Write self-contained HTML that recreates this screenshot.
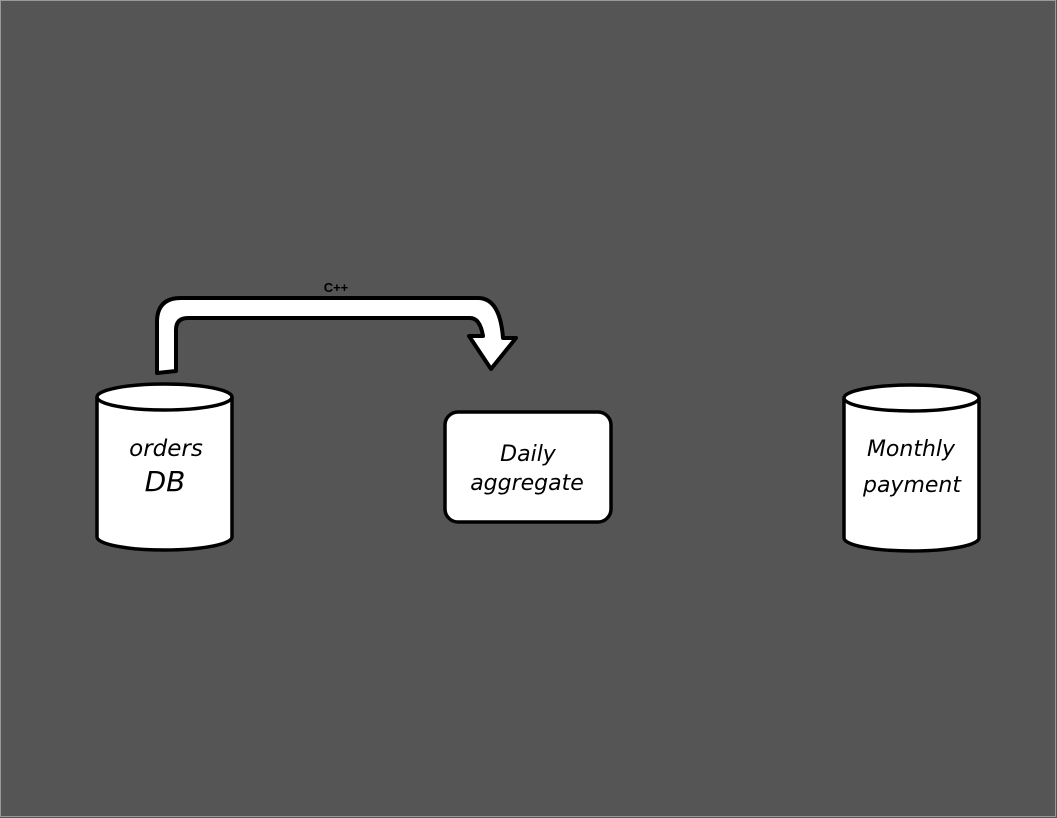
<!DOCTYPE html>
<html><head><style>
html,body{margin:0;padding:0;background:#555;}
svg{display:block;}
text{font-family:"DejaVu Sans",sans-serif;}
</style></head><body>
<svg width="1057" height="818" viewBox="0 0 1057 818" xmlns="http://www.w3.org/2000/svg">
<rect x="0" y="0" width="1057" height="818" fill="#555"/>
<rect x="0.5" y="0.5" width="1055" height="816" fill="none" stroke="#999" stroke-width="1"/>
<path d="M157,373 L157,322 Q157,298 181,298 L478,298 Q500,298 503,338 L516,338 L491,369 L469,336 L483,336 Q480,318 470,318 L188,318 Q176,318 176,330 L176,371 Z" fill="#fff" stroke="#000" stroke-width="4" stroke-linejoin="round"/>
<text x="336" y="292" font-weight="bold" font-size="13" text-anchor="middle" style="font-family:'Liberation Sans',sans-serif">C++</text>
<path d="M97,397 L97,537 A67.5,13 0 0 0 232,537 L232,397" fill="#fff" stroke="#000" stroke-width="3.5"/>
<ellipse cx="164.5" cy="397" rx="67.5" ry="13" fill="#fff" stroke="#000" stroke-width="3.5"/>
<text x="166" y="456" font-size="23" text-anchor="middle" font-style="italic">orders</text>
<text x="165" y="491" font-size="28" text-anchor="middle" font-style="italic">DB</text>
<rect x="445" y="412" width="166" height="110" rx="13" fill="#fff" stroke="#000" stroke-width="3.5"/>
<text x="528" y="461" font-size="22" text-anchor="middle" font-style="italic">Daily</text>
<text x="527" y="490" font-size="22" text-anchor="middle" font-style="italic">aggregate</text>
<path d="M844,398 L844,538 A67.5,13 0 0 0 979,538 L979,398" fill="#fff" stroke="#000" stroke-width="3.5"/>
<ellipse cx="911.5" cy="398" rx="67.5" ry="13" fill="#fff" stroke="#000" stroke-width="3.5"/>
<text x="911" y="456" font-size="22" text-anchor="middle" font-style="italic">Monthly</text>
<text x="912" y="492" font-size="22" text-anchor="middle" font-style="italic">payment</text>
</svg>
</body></html>
